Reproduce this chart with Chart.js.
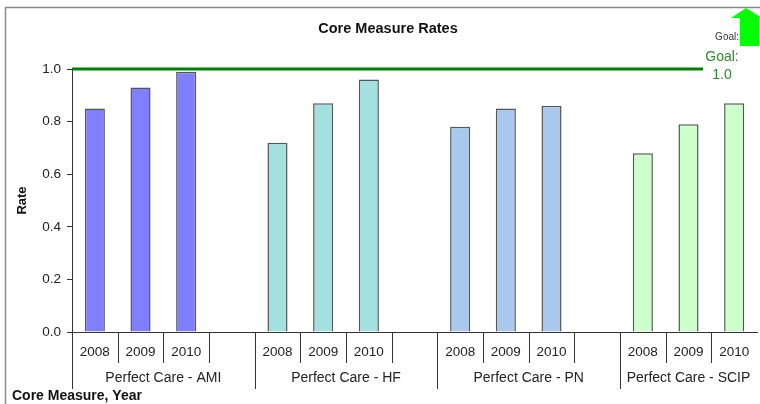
<!DOCTYPE html>
<html>
<head>
<meta charset="utf-8">
<script src="https://cdn.jsdelivr.net/npm/chart.js@4"></script>
<style>
  html, body { margin: 0; padding: 0; background: #fff; }
  #wrap { width: 760px; height: 404px; }
</style>
</head>
<body>
<div id="wrap"><canvas id="chart" width="760" height="404"></canvas></div>
<script>
// данные графика
const groups = ['Perfect Care - AMI', 'Perfect Care - HF', 'Perfect Care - PN', 'Perfect Care - SCIP'];
const years = ['2008', '2009', '2010'];
const amiRates = [0.85, 0.93, 0.99];
const hfRates = [0.72, 0.87, 0.96];
const pnRates = [0.78, 0.85, 0.86];
const scipRates = [0.68, 0.79, 0.87];
const yTicks = [0.0, 0.2, 0.4, 0.6, 0.8, 1.0];
const goal = 1.0;

const groupColors = ['#8080FF', '#A3E0E0', '#A8C8EE', '#CCFFCC'];
const series = [amiRates, hfRates, pnRates, scipRates];

// собираем категории: 3 года на группу + пустой слот между группами
const labels = [];
const values = [];
const colors = [];
series.forEach(function(rates, g) {
    years.forEach(function(yr, i) {
        labels.push(yr);
        values.push(rates[i]);
        colors.push(groupColors[g]);
    });
    if (g < series.length - 1) {
        labels.push('');
        values.push(null);
        colors.push('transparent');
    }
});

const FONT = '"Liberation Sans", Arial, sans-serif';

// плагин для рамки, заголовков, подписей оси X и линии цели
const decor = {
    id: 'decor',
    beforeDraw(chart) {
        const ctx = chart.ctx;
        ctx.save();
        ctx.fillStyle = '#fff';
        ctx.fillRect(0, 0, chart.width, chart.height);
        ctx.strokeStyle = '#8a8a8a';
        ctx.lineWidth = 1.5;
        ctx.strokeRect(5.5, 7.5, chart.width + 10, chart.height);
        ctx.restore();
    },
    afterDraw(chart) {
        const ctx = chart.ctx;
        const x = chart.scales.x;
        const y = chart.scales.y;
        const area = chart.chartArea;
        const slot = x.getPixelForValue(1) - x.getPixelForValue(0);
        ctx.save();

        // заголовок
        ctx.fillStyle = '#111';
        ctx.font = 'bold 14.5px ' + FONT;
        ctx.textAlign = 'center';
        ctx.textBaseline = 'middle';
        ctx.fillText('Core Measure Rates', 388, 29);

        // разделители и подписи оси X
        ctx.strokeStyle = '#333';
        ctx.lineWidth = 1;
        let idx = 0;
        groups.forEach(function(name, g) {
            const start = x.getPixelForValue(idx) - slot / 2;
            ctx.beginPath();
            ctx.moveTo(Math.round(start) + 0.5, area.bottom);
            ctx.lineTo(Math.round(start) + 0.5, 389);
            ctx.stroke();
            ctx.font = '13.5px ' + FONT;
            ctx.fillStyle = '#222';
            years.forEach(function(yr, i) {
                const cx = x.getPixelForValue(idx + i);
                ctx.fillText(yr, cx, 352);
                const edge = Math.round(cx + slot / 2) + 0.5;
                if (g < groups.length - 1 || i < years.length - 1) {
                    ctx.beginPath();
                    ctx.moveTo(edge, area.bottom);
                    ctx.lineTo(edge, 363);
                    ctx.stroke();
                }
            });
            ctx.font = '14px ' + FONT;
            const span = g < groups.length - 1 ? 4 : 3;
            ctx.fillText(name, start + span * slot / 2, 378);
            idx += 4;
        });

        // название оси X
        ctx.font = 'bold 14px ' + FONT;
        ctx.textAlign = 'left';
        ctx.fillStyle = '#111';
        ctx.fillText('Core Measure, Year', 12, 396);

        // линия цели
        const gy = y.getPixelForValue(goal);
        ctx.strokeStyle = '#008000';
        ctx.lineWidth = 3;
        ctx.beginPath();
        ctx.moveTo(area.left, gy);
        ctx.lineTo(703, gy);
        ctx.stroke();

        ctx.fillStyle = '#2E8B2E';
        ctx.font = '14px ' + FONT;
        ctx.textAlign = 'center';
        ctx.fillText('Goal:', 722, 57);
        ctx.fillText(goal.toFixed(1), 722, 75);

        ctx.fillStyle = '#333';
        ctx.font = '10px ' + FONT;
        ctx.textAlign = 'right';
        ctx.fillText('Goal:', 739, 37);

        // зелёная стрелка
        ctx.fillStyle = '#00FF00';
        ctx.beginPath();
        ctx.moveTo(746, 8);
        ctx.lineTo(762, 18);
        ctx.lineTo(759, 18);
        ctx.lineTo(759, 46);
        ctx.lineTo(740, 46);
        ctx.lineTo(740, 18);
        ctx.lineTo(731, 18);
        ctx.closePath();
        ctx.fill();

        ctx.restore();
    }
};

const ctx = document.getElementById('chart').getContext('2d');
new Chart(ctx, {
    type: 'bar',
    data: {
        labels: labels,
        datasets: [{
            data: values,
            backgroundColor: colors,
            borderColor: '#555',
            borderWidth: 1.5,
            categoryPercentage: 1,
            barPercentage: 0.44
        }]
    },
    options: {
        responsive: false,
        animation: false,
        layout: { padding: { left: 8, top: 69, right: 3, bottom: 0 } },
        plugins: {
            legend: { display: false },
            title: { display: false },
            tooltip: { enabled: false }
        },
        scales: {
            x: {
                type: 'category',
                offset: true,
                grid: { display: false },
                border: { color: '#333', width: 1 },
                ticks: { display: false },
                afterFit(scale) { scale.height = 72; }
            },
            y: {
                min: 0,
                max: 1,
                afterBuildTicks(scale) {
                    scale.ticks = yTicks.map(v => ({ value: v }));
                },
                grid: { drawOnChartArea: false, tickLength: 5, color: '#333' },
                border: { color: '#333', width: 1 },
                ticks: {
                    color: '#222',
                    font: { family: FONT, size: 13.5 },
                    padding: 6,
                    callback: v => Number(v).toFixed(1)
                },
                title: {
                    display: true,
                    text: 'Rate',
                    color: '#111',
                    font: { family: FONT, size: 13, weight: 'bold' },
                    padding: { top: 7, bottom: 4 }
                },
                afterFit(scale) { scale.width = 64; }
            }
        }
    },
    plugins: [decor]
});
</script>
</body>
</html>
